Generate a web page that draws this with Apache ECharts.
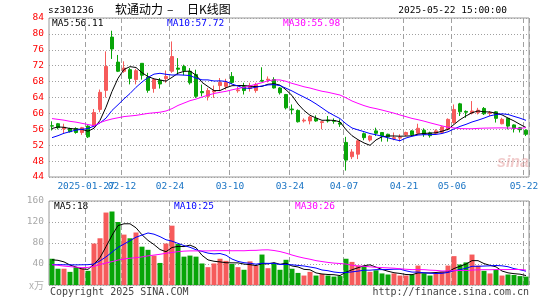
<!DOCTYPE html>
<html><head><meta charset="utf-8">
<script src="https://cdn.jsdelivr.net/npm/echarts@6/dist/echarts.min.js"></script>
<style>html,body{margin:0;padding:0;background:#fff}#c{width:545px;height:300px}</style>
</head><body><div id="c"></div>
<script>
const dates = ['2025-01-17','2025-01-20','2025-01-21','2025-01-22','2025-01-23','2025-01-24','2025-01-27',
'2025-02-05','2025-02-06','2025-02-07','2025-02-10','2025-02-11','2025-02-12','2025-02-13','2025-02-14','2025-02-17','2025-02-18','2025-02-19','2025-02-20','2025-02-21','2025-02-24','2025-02-25','2025-02-26','2025-02-27','2025-02-28',
'2025-03-03','2025-03-04','2025-03-05','2025-03-06','2025-03-07','2025-03-10','2025-03-11','2025-03-12','2025-03-13','2025-03-14','2025-03-17','2025-03-18','2025-03-19','2025-03-20','2025-03-21','2025-03-24','2025-03-25','2025-03-26','2025-03-27','2025-03-28','2025-03-31',
'2025-04-01','2025-04-02','2025-04-03','2025-04-07','2025-04-08','2025-04-09','2025-04-10','2025-04-11','2025-04-14','2025-04-15','2025-04-16','2025-04-17','2025-04-18','2025-04-21','2025-04-22','2025-04-23','2025-04-24','2025-04-25','2025-04-28','2025-04-29','2025-04-30',
'2025-05-06','2025-05-07','2025-05-08','2025-05-09','2025-05-12','2025-05-13','2025-05-14','2025-05-15','2025-05-16','2025-05-19','2025-05-20','2025-05-21','2025-05-22'];
const opens = [56.9,57.4,56.1,56.2,56.2,55.2,56.8,56.8,61.0,65.8, 79.2,72.9,70.6,71.0,68.5,72.6,69.1,66.25,68.3,68.75, 70.6,71.4,71.8,70.6,69.8,65.5,64.3,65.4,67.0,66.8, 69.3,65.7,66.8,66.25,65.75,68.3,68.4,68.5,66.4,64.75, 61.1,60.75,58.1,58.1,58.75,57.7,58.3,58.2,57.6,52.7, 49.1,49.75,54.9,53.3,55.6,55.2,54.75,53.7,53.8,54.6, 55.6,55.0,55.75,55.1,55.0,55.2,56.0,57.7,62.4,60.5, 60.1,60.2,61.25,60.0,60.4,57.4,58.75,57.1,56.4,55.75];
const closes = [56.8,56.4,56.5,55.4,55.2,56.4,54.1,60.2,65.3,71.8, 76.2,70.6,71.4,68.8,70.75,69.6,65.8,68.5,67.4,69.3, 74.3,71.1,70.75,67.7,64.3,65.2,65.75,65.7,67.8,67.8, 67.8,65.9,65.75,67.0,67.25,68.1,68.6,66.4,65.2,61.4, 60.9,57.9,58.3,59.1,58.1,57.9,58.1,58.0,57.3,48.25, 50.3,53.1,53.9,54.3,55.0,54.3,54.1,53.9,54.0,55.2, 54.6,56.25,54.75,54.4,55.6,56.6,58.5,61.0,60.4,60.3, 60.6,60.8,59.9,60.2,58.75,58.5,56.8,56.25,55.9,54.75];
const lows = [55.7,56.0,55.0,55.2,54.9,54.6,53.8,56.5,60.3,64.0, 73.7,70.4,70.2,67.3,67.3,68.5,65.2,65.2,66.25,67.7, 70.2,69.75,69.6,67.25,63.9,64.3,63.25,63.9,65.6,66.0, 67.4,65.2,64.75,65.5,65.2,68.0,67.8,66.25,64.75,61.0, 59.75,57.7,57.7,57.25,57.9,56.0,57.7,57.4,56.6,45.6, 48.5,48.5,53.25,52.9,54.3,52.9,52.9,53.25,52.9,54.3, 54.3,54.6,54.1,53.9,54.75,54.9,55.75,57.4,59.35,58.9, 59.75,59.75,59.6,59.35,57.7,57.25,56.0,55.2,55.2,54.3];
const highs = [58.0,57.6,57.4,56.4,56.5,56.6,57.0,61.1,66.0,75.6, 80.8,74.7,73.1,71.4,71.2,72.6,70.2,68.9,68.9,70.8, 78.1,73.9,72.25,71.4,71.0,67.25,66.4,67.0,68.9,68.7, 70.4,66.7,67.7,67.7,67.7,71.6,69.3,69.1,66.6,64.9, 62.25,61.0,58.75,59.35,59.5,58.1,59.35,58.75,58.5,54.1, 51.0,53.25,55.2,54.5,56.4,55.2,54.9,55.2,54.75,55.4, 55.75,57.4,56.25,55.4,56.0,56.8,58.75,62.25,62.65,60.75, 63.1,61.4,61.6,60.6,60.6,58.9,58.9,57.25,56.6,56.0];
const ma5 = [56.2,56.6,56.5,56.2,56.06,55.98,55.52,56.26,58.24,61.56,65.52,68.82,71.06,71.76,71.55,70.23,69.27,68.69,68.41,68.12,69.06,70.12,70.57,70.63,69.63,67.81,66.74,65.73,65.75,66.45,66.97,67.0,67.01,66.85,66.74,66.8,67.34,67.47,67.11,65.94,64.5,62.36,60.74,59.52,58.86,58.26,58.3,58.24,57.88,55.91,54.39,53.39,52.57,51.97,53.32,54.12,54.32,54.32,54.26,54.3,54.36,54.79,54.96,55.04,55.12,55.52,55.97,57.22,58.42,59.36,60.16,60.62,60.4,60.36,60.05,59.63,58.83,58.1,57.24,56.44];
const ma10 = [53.9,54.4,55.0,55.4,55.8,56.0,56.2,56.8,57.6,58.81,60.75,62.17,63.66,65.0,66.56,67.88,69.05,69.88,70.09,69.84,69.65,69.7,69.63,69.52,68.88,68.44,68.43,68.15,68.19,68.04,67.39,66.87,66.37,66.3,66.6,66.89,67.17,67.24,66.98,66.34,65.65,64.85,64.1,63.32,62.4,61.38,60.33,59.49,58.7,57.39,56.33,55.85,55.41,54.93,54.62,54.26,53.86,53.45,53.12,53.81,54.24,54.56,54.64,54.65,54.71,54.94,55.38,56.09,56.73,57.24,57.84,58.3,58.81,59.39,59.71,59.9,59.73,59.25,58.8,58.25];
const ma30 = [58.7,58.5,58.3,58.0,57.8,57.5,57.2,56.9,57.7,58.2,58.6,58.9,59.2,59.35,59.5,59.75,60.0,60.15,60.3,60.6,61.2,62.0,62.6,63.2,63.6,64.1,64.6,65.0,65.3,65.56,65.93,66.25,66.55,66.94,67.34,67.73,68.22,68.42,68.42,68.07,67.56,67.14,66.7,66.38,65.96,65.57,65.31,64.96,64.62,63.92,63.12,62.52,61.96,61.51,61.2,60.84,60.45,60.06,59.6,59.18,58.74,58.42,58.05,57.63,57.24,56.86,56.52,56.34,56.18,56.15,56.14,56.23,56.29,56.32,56.34,56.36,56.32,56.26,56.22,56.43];
const volumes = [50,31,31,25,34,32,27,79,89,138, 140,120,96,89,100,73,67,56,42,79, 113,78,54,56,54,41,34,41,50,46, 40,34,29,45,37,58,32,41,29,48, 31,23,18,25,18,21,18,16,17,50, 44,37,36,25,28,22,20,22,18,18, 20,37,22,18,22,25,37,55,39,43, 58,37,27,22,29,18,20,19,17,16];
const vma5 = [48,47,44,38,34.2,30.6,29.8,39.4,52.2,73,94.6,113.2,116.6,116.6,109,95.6,85,77,67.6,63.4,71.4,73.6,73.2,76,71,56.6,47.8,45.2,44,42.4,42.2,42.2,39.8,38.8,37,40.6,40.2,42.6,39.4,41.6,36.2,34.4,29.8,29,23,21,20,19.6,18,24.4,29,32.8,36.8,38.4,34,29.6,26.2,23.4,22,20,19.6,23,23,23,23.8,24.8,24.8,31.4,35.6,39.8,46.4,46.4,40.8,37.4,34.6,26.6,23.2,21.6,20.6,18];
const vma10 = [38.7,38.7,38.5,38.4,38.3,38.5,38.7,40,46,53.6,62.6,71.5,78,84.4,91,95.1,99.1,96.8,92.1,86.2,83.5,79.3,75.1,71.8,67.2,64,60.7,59.2,60,56.7,49.4,45,42.5,41.4,39.7,41.4,41.2,41.2,39.1,39.3,38.4,37.3,36.2,34.2,32.3,28.6,27.2,24.7,23.5,23.7,25,26.4,28.2,28.2,29.2,29.3,29.5,30.1,30.2,27,24.6,24.6,23.2,22.5,21.9,22.2,23.9,27.2,29.3,31.8,35.6,35.6,36.1,36.5,37.2,36.5,34.8,31.2,29,26.3];
const vma30 = [38.7,37.5,36,35,34,33,33.5,35.5,39,42,44.5,47.5,49.5,51,52,53.5,55.5,57,58.5,60.5,62,63.5,64.5,65,65,65,65,65.3,65.4,65.5,65.2,65.3,65.2,65.9,66,66.8,67,65.7,63.7,60.7,57.1,53.9,51.3,49.1,46.4,44.7,43,41.7,40.9,39.9,37.6,36.2,35.6,34.6,33.7,33.1,32.6,32,30.9,30,29.3,29.4,29.2,28.3,27.8,26.7,26.9,27.3,27.7,27.5,28.4,28.9,29.2,29.1,29.4,29.3,29.4,29.5,29.5,28.4];
const labelIdx = [6,12,20,30,40,49,59,67,79];
const labelText = ['2025-01-27','02-12','02-24','03-10','03-24','04-07','04-21','05-06','05-22'];
const priceAxis = {min:44, max:84, step:4};
const volAxis = {min:0, max:160, step:40};
const maText = ['MA5:56.11','MA10:57.72','MA30:55.98'];
const vmaText = ['MA5:18','MA10:25','MA30:26'];

const RED = '#f65b5b', GREEN = '#08a508';
const MONO = '"DejaVu Sans Mono", monospace';
const isLabel = (i) => labelIdx.indexOf(i) >= 0;
const chart = echarts.init(document.getElementById('c'), null, {renderer:'canvas'});
const candleData = opens.map((o,i)=>[o, closes[i], lows[i], highs[i]]);
const volData = volumes.map((v,i)=>({value:v, itemStyle:{color: closes[i] >= opens[i] ? RED : GREEN}}));
const lineS = (name, data, color, xi) => ({name, type:'line', data, xAxisIndex:xi, yAxisIndex:xi, showSymbol:false, symbol:'none', silent:true, lineStyle:{width:1, color}, z:5});
const dotted = {color:'#a0a0a0', width:1, type:[1,2]};
const dashed = {color:'#a0a0a0', width:1, type:[5,3]};
// labelFilter selects which labelled ticks an axis prints (first label sits on its own axis so both overlapping labels draw)
const xAx = (gi, labelFilter, withSplit) => ({type:'category', gridIndex:gi, data:dates, boundaryGap:true, position:'bottom',
  axisLine:{show:false}, axisTick:{show:false},
  axisLabel:{show:!!labelFilter, interval:(i)=>isLabel(i) && (!labelFilter || labelFilter(i)), hideOverlap:false, color:'#1a74c4', fontFamily:MONO, fontSize:9.5, margin:5, padding:[0,4,0,0],
    formatter:(v,i)=>labelText[labelIdx.indexOf(i)] || ''},
  splitLine:{show:withSplit, interval:(i)=>isLabel(i), lineStyle:dashed}});
const option = {
  animation:false,
  backgroundColor:'#fff',
  grid:[
    {left:49, top:18, width:480, height:159, show:true, borderColor:'#999', borderWidth:1},
    {left:49, top:201, width:480, height:84, show:true, borderColor:'#999', borderWidth:1}
  ],
  xAxis:[
    xAx(0, (i)=>i!==labelIdx[0], true),
    xAx(1, null, true),
    xAx(0, (i)=>i===labelIdx[0], false)
  ],
  yAxis:[
    {type:'value', gridIndex:0, min:priceAxis.min, max:priceAxis.max, interval:priceAxis.step, axisLine:{show:false}, axisTick:{show:false},
     axisLabel:{color:'#ff0000', fontFamily:MONO, fontSize:9.5, margin:5}, splitLine:{show:true, lineStyle:dotted}},
    {type:'value', gridIndex:1, min:volAxis.min, max:volAxis.max, interval:volAxis.step, axisLine:{show:false}, axisTick:{show:false},
     axisLabel:{color:'#a8a8a8', fontFamily:MONO, fontSize:9.5, margin:5, formatter:(v)=> v===0 ? '' : String(v)}, splitLine:{show:true, lineStyle:dotted}}
  ],
  series:[
    {type:'candlestick', xAxisIndex:0, yAxisIndex:0, data:candleData, barWidth:4, silent:true,
     itemStyle:{color:RED, color0:GREEN, borderColor:RED, borderColor0:GREEN, borderWidth:1}},
    lineS('MA5', ma5, '#000000', 0),
    lineS('MA10', ma10, '#0000ff', 0),
    lineS('MA30', ma30, '#ff00ff', 0),
    {type:'bar', xAxisIndex:1, yAxisIndex:1, data:volData, barWidth:5, silent:true},
    lineS('VMA5', vma5, '#000000', 1),
    lineS('VMA10', vma10, '#0000ff', 1),
    lineS('VMA30', vma30, '#ff00ff', 1)
  ],
  graphic:[
    {type:'text', left:48, top:6, style:{text:'sz301236', font:'9.5px '+MONO, fill:'#000'}},
    {type:'text', left:115, top:3, style:{text:'软通动力', font:'12px "Noto Sans CJK SC"', fill:'#000'}},
    {type:'text', left:167, top:3, style:{text:'–', font:'12px "Noto Sans CJK SC"', fill:'#000'}},
    {type:'text', left:187, top:3, style:{text:'日K线图', font:'12px "Noto Sans CJK SC"', fill:'#000'}},
    {type:'text', right:38, top:6, style:{text:'2025-05-22 15:00:00', font:'9.5px '+MONO, fill:'#000'}},
    {type:'text', left:52, top:19, style:{text:maText[0], font:'9.5px '+MONO, fill:'#000'}},
    {type:'text', left:167, top:19, style:{text:maText[1], font:'9.5px '+MONO, fill:'#0000ff'}},
    {type:'text', left:283, top:19, style:{text:maText[2], font:'9.5px '+MONO, fill:'#ff00ff'}},
    {type:'text', left:54, top:202, style:{text:vmaText[0], font:'9.5px '+MONO, fill:'#000'}},
    {type:'text', left:174, top:202, style:{text:vmaText[1], font:'9.5px '+MONO, fill:'#0000ff'}},
    {type:'text', left:295, top:202, style:{text:vmaText[2], font:'9.5px '+MONO, fill:'#ff00ff'}},
    {type:'text', left:29, top:280, style:{text:'x万', font:'10px "Noto Sans CJK SC"', fill:'#b0b0b0'}},
    {type:'text', left:50, top:287, style:{text:'Copyright 2025 SINA.COM', font:'10px '+MONO, fill:'#444'}},
    {type:'text', right:16, top:287, style:{text:'http://finance.sina.com.cn', font:'10px '+MONO, fill:'#444'}},
    {type:'text', left:497, top:155, z:1, style:{text:'sina', font:'italic bold 16px "Liberation Sans"', fill:'rgba(225,140,140,0.45)'}}
  ]
};
chart.setOption(option);
</script></body></html>
